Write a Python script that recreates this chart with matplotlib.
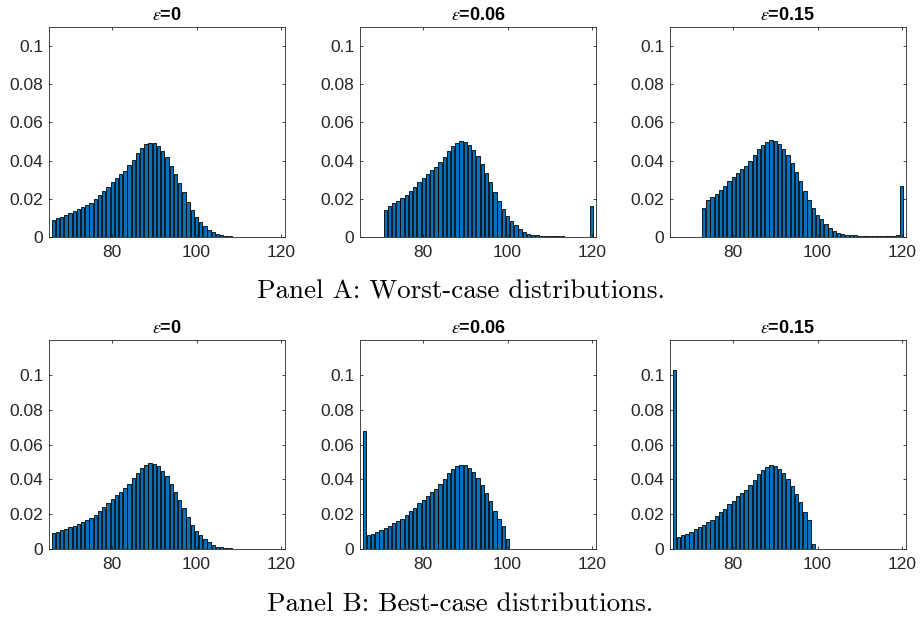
import numpy as np
import matplotlib
matplotlib.use('Agg')
import matplotlib.pyplot as plt
from matplotlib.ticker import FixedLocator, FuncFormatter

plt.rcParams['font.family'] = ['Liberation Sans', 'DejaVu Sans']
plt.rcParams['mathtext.fontset'] = 'stix'

# ---- data -------------------------------------------------------------
x_values = np.arange(66, 121)

eps0 = [0.0091, 0.0098, 0.0107, 0.0115, 0.0124, 0.0134, 0.0145, 0.0156, 0.0168, 0.0180,
        0.0198, 0.0218, 0.0240, 0.0264, 0.0288, 0.0310, 0.0330, 0.0348, 0.0376, 0.0405,
        0.0438, 0.0465, 0.0485, 0.0492, 0.0490, 0.0475, 0.0449, 0.0417, 0.0373, 0.0330,
        0.0283, 0.0234, 0.0183, 0.0140, 0.0105, 0.0079, 0.0056, 0.0038, 0.0024, 0.0014,
        0.0009, 0.0005, 0.0003, 0.0002, 0.0002, 0.0001, 0.0001, 0.0001, 0.0001, 0.0001,
        0.0001, 0.0001, 0.0001, 0.0001, 0.0001]

worst_006 = [0, 0, 0, 0, 0,
             0.0141, 0.0162, 0.0176, 0.0187, 0.0203, 0.0218, 0.0239, 0.0260, 0.0286, 0.0307,
             0.0330, 0.0351, 0.0367, 0.0391, 0.0421, 0.0452, 0.0477, 0.0491, 0.0501, 0.0498,
             0.0482, 0.0456, 0.0424, 0.0381, 0.0337, 0.0290, 0.0234, 0.0189, 0.0147, 0.0112,
             0.0086, 0.0063, 0.0042, 0.0028, 0.0017, 0.0012, 0.0009,
             0.0006, 0.0004, 0.0004, 0.0003, 0.0003, 0.0003, 0.0002, 0.0002, 0.0002, 0.0002,
             0.0002, 0.0002,
             0.0163]

worst_015 = [0, 0, 0, 0, 0, 0, 0,
             0.0151, 0.0196, 0.0208, 0.0225, 0.0246, 0.0267, 0.0293, 0.0313, 0.0334, 0.0356,
             0.0372, 0.0398, 0.0430, 0.0459, 0.0482, 0.0496, 0.0507, 0.0504, 0.0486, 0.0461,
             0.0430, 0.0386, 0.0341, 0.0293, 0.0241, 0.0194, 0.0152, 0.0117, 0.0093, 0.0068,
             0.0047, 0.0031, 0.0021, 0.0014, 0.0011, 0.0009, 0.0008,
             0.0007, 0.0007, 0.0006, 0.0006, 0.0006, 0.0006, 0.0006, 0.0006, 0.0007, 0.0008,
             0.0269]

best_006 = [0.0680,
            0.0079, 0.0088, 0.0100, 0.0110, 0.0121, 0.0133, 0.0148, 0.0160, 0.0175, 0.0194,
            0.0217, 0.0235, 0.0263, 0.0283, 0.0306, 0.0327, 0.0344, 0.0373, 0.0402, 0.0435,
            0.0460, 0.0475, 0.0485, 0.0483, 0.0463, 0.0442, 0.0408, 0.0367, 0.0321, 0.0273,
            0.0219, 0.0173, 0.0131, 0.0056,
            0, 0, 0, 0, 0, 0, 0, 0, 0, 0, 0, 0, 0, 0, 0, 0, 0, 0, 0, 0]

best_015 = [0.1030,
            0.0069, 0.0079, 0.0088, 0.0100, 0.0112, 0.0125, 0.0140, 0.0154, 0.0167, 0.0187,
            0.0210, 0.0229, 0.0258, 0.0277, 0.0302, 0.0323, 0.0340, 0.0369, 0.0398, 0.0431,
            0.0456, 0.0469, 0.0481, 0.0479, 0.0460, 0.0437, 0.0402, 0.0362, 0.0317, 0.0269,
            0.0215, 0.0167, 0.0027,
            0, 0, 0, 0, 0, 0, 0, 0, 0, 0, 0, 0, 0, 0, 0, 0, 0, 0, 0, 0, 0]

titles = [r'$\epsilon$=0', r'$\epsilon$=0.06', r'$\epsilon$=0.15']
panel_a = [eps0, worst_006, worst_015]
panel_b = [eps0, best_006, best_015]
x_ticks = [80, 100, 120]
y_ticks = [0, 0.02, 0.04, 0.06, 0.08, 0.1]
caption_a = 'Panel A: Worst-case distributions.'
caption_b = 'Panel B: Best-case distributions.'

# ---- figure -----------------------------------------------------------
W, H = 921, 618
fig = plt.figure(figsize=(W / 100, H / 100), dpi=100)

lefts = [49, 360, 670]
axw = 236
rows = [(27, 237, 0.11, panel_a), (340, 549, 0.12, panel_b)]

ink = '#262626'
for top, bottom, ymax, data in rows:
    for left, series, title in zip(lefts, data, titles):
        ax = fig.add_axes([left / W, 1 - bottom / H, axw / W, (bottom - top) / H])
        ax.bar(x_values, series, width=0.8, color='#0072BD', edgecolor='black',
               linewidth=0.6)
        ax.set_xlim(65, 121)
        ax.set_ylim(0, ymax)
        ax.xaxis.set_major_locator(FixedLocator(x_ticks))
        ax.yaxis.set_major_locator(FixedLocator(y_ticks))
        ax.yaxis.set_major_formatter(FuncFormatter(lambda v, p: '%g' % v))
        ax.tick_params(direction='in', length=2.5, width=0.6, colors=ink,
                       labelsize=12.5, top=True, right=True)
        ax.tick_params(axis='x', pad=6)
        ax.tick_params(axis='y', pad=4)
        for s in ax.spines.values():
            s.set_color(ink)
            s.set_linewidth(0.6)
        ax.set_title(title, fontweight='bold', fontsize=13, pad=5, color='black')

fig.text(0.5, 1 - 292 / H, caption_a, family='cmr10', fontsize=19.5,
         ha='center', va='center')
fig.text(0.5, 1 - 604 / H, caption_b, family='cmr10', fontsize=19.5,
         ha='center', va='center')

fig.savefig('out.png', dpi=100)
